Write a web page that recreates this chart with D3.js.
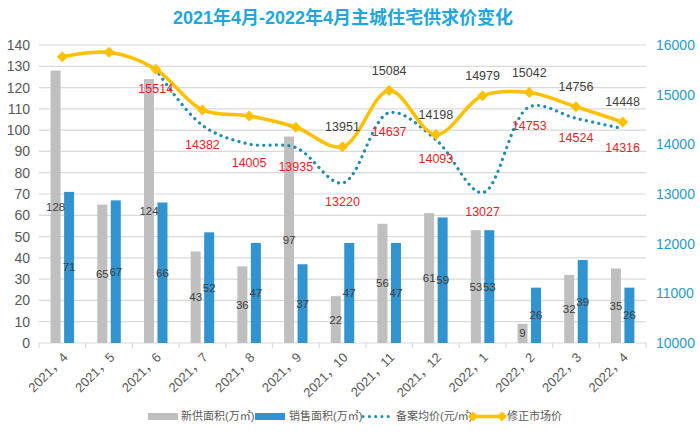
<!DOCTYPE html>
<html><head><meta charset="utf-8">
<script src="https://cdn.jsdelivr.net/npm/d3@7"></script>
<style>
html,body{margin:0;padding:0;background:#fff;}
svg{display:block;font-family:"Liberation Sans","Noto Sans CJK SC",sans-serif;}
</style></head>
<body><svg id="c" width="700" height="441"></svg>
<script>
const title = "2021年4月-2022年4月主城住宅供求价变化";
const categories = ["2021，4","2021，5","2021，6","2021，7","2021，8","2021，9","2021，10","2021，11","2021，12","2022，1","2022，2","2022，3","2022，4"];
const newSupply = [128,65,124,43,36,97,22,56,61,53,9,32,35];
const sales = [71,67,66,52,47,37,47,47,59,53,26,39,26];
const recordPrice = [null,null,15514,14382,14005,13935,13220,14637,14093,13027,14753,14524,14316];
const marketPrice = [15765,15853,15514,14692,14571,14344,13951,15084,14198,14979,15042,14756,14448];
const marketPriceLabeled = [false,false,false,false,false,false,true,true,true,true,true,true,true];
const leftTicks = [0,10,20,30,40,50,60,70,80,90,100,110,120,130,140];
const rightTicks = [10000,11000,12000,13000,14000,15000,16000];
const seriesNames = ["新供面积(万㎡)","销售面积(万㎡)","备案均价(元/㎡)","修正市场价"];

const svg = d3.select("#c");
svg.append("rect").attr("width",700).attr("height",441).attr("fill","#fff");

const x = d3.scaleBand().domain(categories).range([39,646]).padding(0);
const xi = d3.scaleBand().domain(["a","b"]).range([-11.75,11.75]).paddingInner(0.2593).paddingOuter(0);
const yL = d3.scaleLinear().domain([0,140]).range([343,45]);
const yR = d3.scaleLinear().domain([10000,16000]).range([343,45]);
const cx = c => x(c) + x.bandwidth()/2;

svg.append("text").attr("x",343).attr("y",24).attr("text-anchor","middle")
  .attr("font-size",18).attr("font-weight","bold").attr("fill","#1ea6e0").text(title);

// gridlines
svg.append("g").selectAll("line").data(leftTicks.slice(1)).join("line")
  .attr("x1",39).attr("x2",646).attr("y1",d=>yL(d)).attr("y2",d=>yL(d))
  .attr("stroke","#d9d9d9").attr("stroke-width",1.2);

// left axis
const gl = svg.append("g").attr("transform","translate(39,0)")
  .call(d3.axisLeft(yL).tickValues(leftTicks).tickSize(0).tickPadding(9));
gl.select(".domain").remove();
gl.selectAll("text").attr("font-size",14).attr("fill","#595959").attr("font-family",null);

// right axis
const gr = svg.append("g").attr("transform","translate(646,0)")
  .call(d3.axisRight(yR).tickValues(rightTicks).tickSize(0).tickPadding(10).tickFormat(d3.format("d")));
gr.select(".domain").remove();
gr.selectAll("text").attr("font-size",14).attr("fill","#2a9bc9").attr("font-family",null);

// x axis
svg.append("line").attr("x1",39).attr("x2",646).attr("y1",343).attr("y2",343).attr("stroke","#d9d9d9").attr("stroke-width",1.2);
svg.append("g").selectAll("line").data(categories.concat(["_end"])).join("line")
  .attr("x1",(d,i)=>i<categories.length?x(d):646).attr("x2",(d,i)=>i<categories.length?x(d):646)
  .attr("y1",343).attr("y2",348).attr("stroke","#d9d9d9").attr("stroke-width",1.2);
svg.append("g").selectAll("text").data(categories).join("text")
  .attr("transform",d=>`translate(${cx(d)+3},355) rotate(-45)`)
  .attr("text-anchor","end").attr("dy","0.35em").attr("font-size",13).attr("fill","#595959")
  .text(d=>d);

// bars
const bars = svg.append("g");
bars.selectAll(".s").data(newSupply).join("rect")
  .attr("x",(d,i)=>cx(categories[i])+xi("a")).attr("width",xi.bandwidth())
  .attr("y",d=>yL(d)).attr("height",d=>yL(0)-yL(d)).attr("fill","#bfbfbf");
bars.selectAll(".b").data(sales).join("rect").attr("class","b")
  .attr("x",(d,i)=>cx(categories[i])+xi("b")).attr("width",xi.bandwidth())
  .attr("y",d=>yL(d)).attr("height",d=>yL(0)-yL(d)).attr("fill","#3193d0");

// bar labels
const bl = svg.append("g").attr("font-size",11.5).attr("fill","#404040").attr("text-anchor","middle");
newSupply.forEach((d,i)=>{
  bl.append("text").attr("x",cx(categories[i])+xi("a")+xi.bandwidth()/2).attr("y",(yL(d)+yL(0))/2).attr("dy","0.35em").text(d);
});
sales.forEach((d,i)=>{
  bl.append("text").attr("x",cx(categories[i])+xi("b")+xi.bandwidth()/2).attr("y",(yL(d)+yL(0))/2).attr("dy","0.35em").text(d);
});

// record price dotted line
const recPts = recordPrice.map((v,i)=>[categories[i],v]).filter(p=>p[1]!=null);
svg.append("path").datum(recPts)
  .attr("d",d3.line().x(p=>cx(p[0])).y(p=>yR(p[1])).curve(d3.curveCatmullRom.alpha(0.5)))
  .attr("fill","none").attr("stroke","#1f8db3").attr("stroke-width",3.2)
  .attr("stroke-linecap","round").attr("stroke-dasharray","0.1 6.2");

// market price line
const mkPts = marketPrice.map((v,i)=>[categories[i],v]);
svg.append("path").datum(mkPts)
  .attr("d",d3.line().x(p=>cx(p[0])).y(p=>yR(p[1])).curve(d3.curveCatmullRom.alpha(0.5)))
  .attr("fill","none").attr("stroke","#ffc000").attr("stroke-width",3.5).attr("stroke-linejoin","round");
const diamond = (r)=>`M0,${-r}L${r},0L0,${r}L${-r},0Z`;
svg.append("g").selectAll("path").data(mkPts).join("path")
  .attr("transform",p=>`translate(${cx(p[0])},${yR(p[1])})`).attr("d",diamond(5.5)).attr("fill","#ffc000");

// labels
const lab = svg.append("g").attr("font-size",12.5).attr("text-anchor","middle");
recPts.forEach(p=>{
  lab.append("text").attr("x",cx(p[0])).attr("y",yR(p[1])+19).attr("dy","0.35em").attr("fill","#ee1c25").text(p[1]);
});
mkPts.forEach((p,i)=>{
  if(!marketPriceLabeled[i]) return;
  lab.append("text").attr("x",cx(p[0])).attr("y",yR(p[1])-20).attr("dy","0.35em").attr("fill","#404040").text(p[1]);
});

// legend
const lg = svg.append("g").attr("font-size",11).attr("fill","#595959");
lg.append("rect").attr("x",148).attr("y",413).attr("width",30).attr("height",7).attr("fill","#bfbfbf");
lg.append("text").attr("x",181).attr("y",416.5).attr("dy","0.35em").text(seriesNames[0]);
lg.append("rect").attr("x",255).attr("y",413).attr("width",30).attr("height",7).attr("fill","#3193d0");
lg.append("text").attr("x",289).attr("y",416.5).attr("dy","0.35em").text(seriesNames[1]);
lg.append("line").attr("x1",363).attr("x2",389).attr("y1",416.5).attr("y2",416.5)
  .attr("stroke","#1f8db3").attr("stroke-width",3).attr("stroke-linecap","round").attr("stroke-dasharray","0.1 6.2");
lg.append("text").attr("x",396).attr("y",416.5).attr("dy","0.35em").text(seriesNames[2]);
lg.append("line").attr("x1",472).attr("x2",503).attr("y1",416.5).attr("y2",416.5).attr("stroke","#ffc000").attr("stroke-width",3.5);
lg.append("path").attr("transform","translate(473,416.5)").attr("d",diamond(5)).attr("fill","#ffc000");
lg.append("path").attr("transform","translate(502,416.5)").attr("d",diamond(5)).attr("fill","#ffc000");
lg.append("text").attr("x",507).attr("y",416.5).attr("dy","0.35em").text(seriesNames[3]);
</script></body></html>
